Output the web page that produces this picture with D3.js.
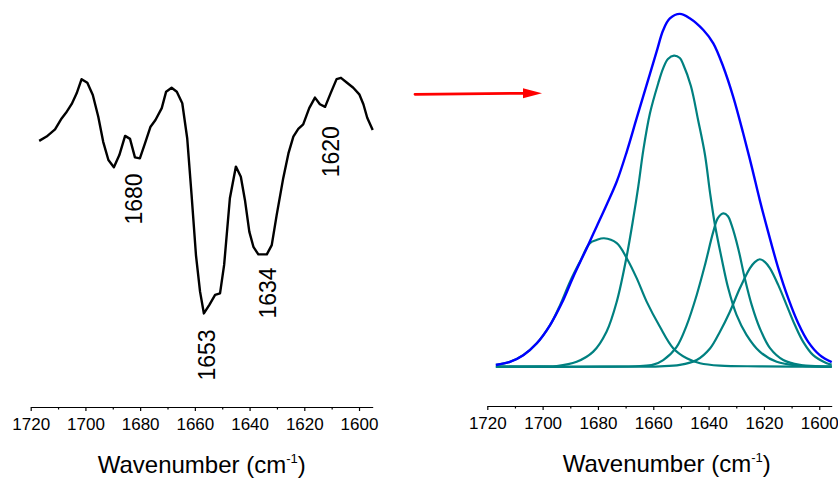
<!DOCTYPE html>
<html>
<head>
<meta charset="utf-8">
<title>amide I fit</title>
<script src="https://cdn.jsdelivr.net/npm/d3@7"></script>
<style>
  body { margin: 0; background: #fff; }
  svg text { font-family: "Liberation Sans", Arial, sans-serif; fill: #000; }
  .axis path, .axis line { stroke: #000; stroke-width: 1.2px; }
  .axis text { font-size: 17px; }
  .title { font-size: 24px; }
  .band { font-size: 23px; }
</style>
</head>
<body>
<div id="chart"></div>
<script>
// ---- data ----
// second derivative spectrum (arb. units), wavenumber in cm-1
var secondDeriv = [
  [1716.9,75.5],[1714.2,76.8],[1711.1,79.0],[1708.7,82.3],[1707.1,84.0],[1705.0,86.7],
  [1703.2,89.9],[1701.4,94.2],[1699.3,93.1],[1697.3,89.4],[1695.3,82.8],[1693.5,75.2],
  [1691.6,69.7],[1689.6,67.5],[1687.6,71.2],[1685.5,77.0],[1683.7,76.1],[1681.9,70.5],
  [1680.1,70.2],[1678.2,74.8],[1676.2,79.8],[1674.4,81.8],[1672.1,85.4],[1670.5,90.4],
  [1668.5,91.6],[1666.6,90.4],[1664.6,86.9],[1662.8,76.3],[1661.2,59.1],[1659.6,40.9],
  [1658.1,29.8],[1656.7,23.2],[1654.7,25.8],[1652.6,28.8],[1650.8,29.3],[1649.3,37.9],
  [1647.2,58.1],[1645.0,67.7],[1643.2,64.6],[1641.7,57.6],[1640.1,48.0],[1638.6,43.4],
  [1636.8,41.1],[1633.7,41.1],[1631.9,43.9],[1630.1,53.0],[1627.7,64.2],[1625.8,71.7],
  [1624.0,76.8],[1622.2,79.1],[1620.4,80.5],[1618.2,85.4],[1616.1,88.6],[1614.3,86.6],
  [1612.4,85.8],[1610.4,89.9],[1608.2,94.2],[1606.6,94.6],[1604.5,93.2],[1602.1,91.6],
  [1599.9,89.6],[1598.4,86.6],[1597.0,82.5],[1595.0,78.8]
];

// band labels on the derivative spectrum
var bandText = ["1680", "1653", "1634", "1620"];
var bandAt = [[1682.2,57.9],[1655.4,10.6],[1633.1,29.4],[1610.2,72.2]];

// fitted envelope (absorbance, arb. units)
var envelope = [
  [1716.9,0.5],[1711.8,1.4],[1707.0,3.3],[1702.1,6.7],[1697.3,11.9],[1693.1,18.1],
  [1688.9,25.7],[1684.1,33.8],[1680.5,40.0],[1676.9,46.2],[1673.2,52.9],[1669.6,61.4],
  [1666.0,71.0],[1662.4,80.5],[1658.8,90.0],[1656.4,96.2],[1654.0,99.5],[1650.4,100.8],
  [1646.7,99.5],[1641.9,96.2],[1638.3,92.4],[1634.7,85.7],[1631.1,77.1],[1627.5,66.7],
  [1624.4,57.1],[1621.5,47.6],[1618.5,38.6],[1614.8,28.1],[1611.2,19.5],[1607.6,12.4],
  [1604.0,7.1],[1599.8,3.3],[1595.5,1.3]
];

// component bands
var band1678 = [
  [1716.9,0.5],[1711.8,1.4],[1707.0,3.3],[1702.1,6.7],[1697.3,11.9],[1693.7,17.6],
  [1690.1,24.3],[1686.5,30.0],[1682.9,35.3],[1680.5,36.2],[1677.8,36.7],[1673.2,35.3],
  [1669.6,31.0],[1666.0,25.3],[1662.4,18.6],[1657.6,11.4],[1652.8,5.3],[1647.9,2.4],
  [1643.1,1.0],[1635.9,0.3],[1621.5,0.1],[1595.5,0]
];
var band1652 = [
  [1716.9,0],[1701.0,0.1],[1694.9,0.2],[1687.7,1.4],[1681.7,4.3],[1676.9,10.0],
  [1673.2,18.6],[1669.6,31.6],[1667.2,42.5],[1665.4,51.6],[1663.6,61.9],[1661.2,72.4],
  [1658.2,81.0],[1656.4,85.3],[1654.7,87.9],[1652.5,88.9],[1650.4,88.2],[1649.2,86.4],
  [1646.4,80.2],[1643.8,70.5],[1641.3,60.5],[1639.5,49.8],[1637.7,40.5],[1635.3,31.0],
  [1632.9,22.4],[1629.9,14.8],[1626.3,9.1],[1621.5,4.3],[1615.4,1.4],[1607.0,0.3],
  [1595.5,0]
];
var band1634 = [
  [1716.9,0],[1679.3,0],[1664.8,0.2],[1660.0,0.6],[1656.4,1.9],[1651.6,5.6],
  [1647.9,11.9],[1644.3,20.5],[1641.3,29.1],[1638.3,38.6],[1636.6,42.5],[1634.7,43.8],
  [1633.0,43.0],[1631.7,40.5],[1629.3,33.8],[1626.9,25.2],[1624.4,17.6],[1621.5,11.0],
  [1617.8,5.3],[1613.0,1.9],[1607.0,0.5],[1599.8,0.1],[1595.5,0]
];
var band1620 = [
  [1716.9,0],[1672.0,0],[1657.6,0.1],[1650.4,0.5],[1644.3,1.9],[1639.5,5.2],
  [1635.9,10.0],[1632.3,15.7],[1628.7,22.4],[1625.1,28.1],[1623.3,29.9],[1621.5,30.7],
  [1619.6,29.9],[1617.8,28.1],[1614.8,23.3],[1611.8,17.6],[1608.8,11.9],[1605.8,7.1],
  [1602.2,3.3],[1597.3,1.0],[1595.5,0.6]
];
var components = [band1678, band1652, band1634, band1620];

var majorTicks = [1720, 1700, 1680, 1660, 1640, 1620, 1600];
var minorTicks = [1710, 1690, 1670, 1650, 1630, 1610];

// ---- layout ----
var width = 838, height = 478;

var svg = d3.select("#chart").append("svg")
    .attr("width", width)
    .attr("height", height);

var xL = d3.scaleLinear().domain([1720, 1595]).range([30.7, 372.7]);
var yL = d3.scaleLinear().domain([0, 100]).range([390, 60]);
var xR = d3.scaleLinear().domain([1720, 1595.5]).range([487.3, 831.7]);
var yR = d3.scaleLinear().domain([0, 100]).range([366.7, 16.7]);

function drawAxis(x, y0, titleX) {
    var g = svg.append("g").attr("class", "axis")
        .attr("transform", "translate(0," + y0 + ")");
    g.call(d3.axisBottom(x).tickValues(majorTicks).tickSize(4).tickSizeOuter(0)
        .tickPadding(7).tickFormat(d3.format("d")));
    var m = svg.append("g").attr("class", "axis")
        .attr("transform", "translate(0," + y0 + ")");
    m.call(d3.axisBottom(x).tickValues(minorTicks).tickSize(2.5).tickSizeOuter(0)
        .tickFormat(""));
    m.select(".domain").remove();
    g.selectAll(".tick text").attr("font-family", null).attr("font-size", null);

    var t = svg.append("text").attr("class", "title")
        .attr("x", titleX).attr("y", y0 + 66)
        .attr("text-anchor", "middle");
    t.append("tspan").text("Wavenumber (cm");
    t.append("tspan").attr("dy", -10).attr("font-size", "13px").text("-1");
    t.append("tspan").attr("dy", 10).text(")");
}

// left panel: second derivative
drawAxis(xL, 407, 201.7);

svg.append("path")
    .datum(secondDeriv)
    .attr("fill", "none")
    .attr("stroke", "#000")
    .attr("stroke-width", 2.4)
    .attr("stroke-linejoin", "round")
    .attr("d", d3.line().x(function(d){return xL(d[0]);}).y(function(d){return yL(d[1]);}));

svg.selectAll(".band")
    .data(bandText)
    .enter()
    .append("text")
    .attr("class", "band")
    .attr("text-anchor", "middle")
    .attr("dominant-baseline", "central")
    .attr("transform", function(d, i){
        return "translate(" + xL(bandAt[i][0]) + "," + yL(bandAt[i][1]) + ") rotate(-90)";
    })
    .text(function(d){return d;});

// arrow between the panels
svg.append("line")
    .attr("x1", 415).attr("y1", 94.3).attr("x2", 526).attr("y2", 93.3)
    .attr("stroke", "#ff0000").attr("stroke-width", 2.8).attr("stroke-linecap", "round");
svg.append("path")
    .attr("d", "M523,88.3 L542,93.2 L523,98.3 Z")
    .attr("fill", "#ff0000");

// right panel: curve fit
drawAxis(xR, 406, 666.7);

var fitLine = d3.line()
    .x(function(d){return xR(d[0]);})
    .y(function(d){return yR(d[1]);})
    .curve(d3.curveCatmullRom.alpha(0.5));

svg.selectAll(".comp")
    .data(components)
    .enter()
    .append("path")
    .attr("class", "comp")
    .attr("fill", "none")
    .attr("stroke", "#008080")
    .attr("stroke-width", 2.2)
    .attr("d", function(d){return fitLine(d.slice().reverse());});

svg.append("path")
    .datum(envelope.slice().reverse())
    .attr("fill", "none")
    .attr("stroke", "#0000ff")
    .attr("stroke-width", 2.4)
    .attr("d", fitLine);
</script>
</body>
</html>
